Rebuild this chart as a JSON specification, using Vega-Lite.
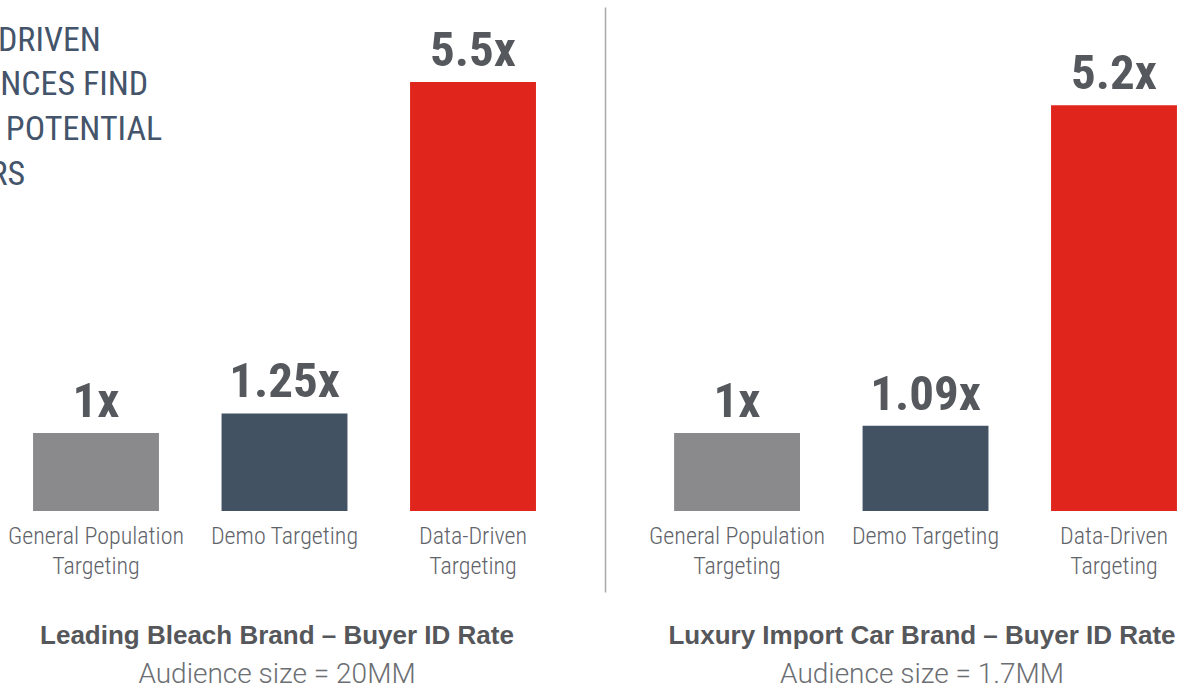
{
  "$schema": "https://vega.github.io/schema/vega-lite/v6.json",
  "background": "white",
  "padding": {"left": 0, "top": 7, "right": 0, "bottom": 0},
  "spacing": 51,
  "datasets": {
    "bleach": [
      {"category": "General Population Targeting", "value": 1, "label": "1x"},
      {"category": "Demo Targeting", "value": 1.25, "label": "1.25x"},
      {"category": "Data-Driven Targeting", "value": 5.5, "label": "5.5x"}
    ],
    "car": [
      {"category": "General Population Targeting", "value": 1, "label": "1x"},
      {"category": "Demo Targeting", "value": 1.09, "label": "1.09x"},
      {"category": "Data-Driven Targeting", "value": 5.2, "label": "5.2x"}
    ],
    "headline": [
      {"text": "DATA-DRIVEN|AUDIENCES FIND|MORE POTENTIAL|BUYERS"}
    ]
  },
  "config": {
    "view": {"stroke": null},
    "axis": {"grid": false},
    "title": {
      "orient": "bottom",
      "anchor": "middle",
      "font": "Liberation Sans",
      "fontSize": 26,
      "fontWeight": "bold",
      "color": "#55575b",
      "subtitleFont": "Roboto",
      "subtitleFontSize": 28,
      "subtitleFontWeight": 300,
      "subtitleColor": "#6b6e72",
      "offset": 31,
      "subtitlePadding": 12
    }
  },
  "hconcat": [
    {
      "width": 554,
      "height": 585,
      "title": {"text": "Leading Bleach Brand – Buyer ID Rate", "subtitle": "Audience size = 20MM"},
      "data": {"name": "bleach"},
      "encoding": {
        "x": {
          "field": "category", "type": "nominal", "sort": null,
          "scale": {"paddingInner": 0.332, "paddingOuter": 0.1355, "align": 0.647},
          "axis": {
            "orient": "bottom", "offset": -81, "domain": false, "ticks": false, "title": null,
            "labelAngle": 0, "labelFont": "Roboto Condensed", "labelFontWeight": 300, "labelFontSize": 24,
            "labelColor": "#5f636a", "labelPadding": 13, "labelLineHeight": 30,
            "labelLimit": 400, "labelOverlap": false,
            "labelExpr": "datum.label == 'Demo Targeting' ? datum.label : split(replace(datum.label, ' Targeting', '|Targeting'), '|')"
          }
        }
      },
      "layer": [
        {
          "mark": {"type": "bar"},
          "encoding": {
            "y": {"field": "value", "type": "quantitative", "scale": {"domain": [-1.04, 6.46], "nice": false, "zero": false}, "axis": null},
            "y2": {"datum": 0},
            "color": {"field": "category", "type": "nominal", "legend": null,
              "scale": {"domain": ["General Population Targeting", "Demo Targeting", "Data-Driven Targeting"], "range": ["#8a8a8c", "#435262", "#e0251c"]}}
          }
        },
        {
          "mark": {"type": "text", "font": "Roboto Condensed", "fontWeight": "bold", "fontSize": 49, "color": "#55585c", "baseline": "alphabetic", "dy": -16},
          "encoding": {
            "y": {"field": "value", "type": "quantitative"},
            "text": {"field": "label"}
          }
        },
        {
          "data": {"name": "headline"},
          "mark": {"type": "text", "clip": true, "font": "Roboto Condensed", "fontSize": 34, "color": "#44546a", "align": "left", "baseline": "alphabetic", "lineBreak": "|", "lineHeight": 44.7, "dx": -83},
          "encoding": {
            "x": {"value": 0},
            "y": {"datum": 5.9},
            "text": {"field": "text"}
          }
        }
      ]
    },
    {
      "width": 582,
      "height": 585,
      "title": {"text": "Luxury Import Car Brand – Buyer ID Rate", "subtitle": "Audience size = 1.7MM", "dx": 26},
      "data": {"name": "car"},
      "encoding": {
        "x": {
          "field": "category", "type": "nominal", "sort": null,
          "scale": {"paddingInner": 0.332, "paddingOuter": 0.21, "align": 0.873},
          "axis": {
            "orient": "bottom", "offset": -81, "domain": false, "ticks": false, "title": null,
            "labelAngle": 0, "labelFont": "Roboto Condensed", "labelFontWeight": 300, "labelFontSize": 24,
            "labelColor": "#5f636a", "labelPadding": 13, "labelLineHeight": 30,
            "labelLimit": 400, "labelOverlap": false,
            "labelExpr": "datum.label == 'Demo Targeting' ? datum.label : split(replace(datum.label, ' Targeting', '|Targeting'), '|')"
          }
        }
      },
      "layer": [
        {
          "mark": {"type": "bar"},
          "encoding": {
            "y": {"field": "value", "type": "quantitative", "scale": {"domain": [-1.04, 6.46], "nice": false, "zero": false},
              "axis": {"orient": "left", "domain": true, "domainColor": "#a9a9a9", "domainWidth": 1.5, "ticks": false, "labels": false, "title": null, "minExtent": 0, "maxExtent": 0}},
            "y2": {"datum": 0},
            "color": {"field": "category", "type": "nominal", "legend": null,
              "scale": {"domain": ["General Population Targeting", "Demo Targeting", "Data-Driven Targeting"], "range": ["#8a8a8c", "#435262", "#e0251c"]}}
          }
        },
        {
          "mark": {"type": "text", "font": "Roboto Condensed", "fontWeight": "bold", "fontSize": 49, "color": "#55585c", "baseline": "alphabetic", "dy": -16},
          "encoding": {
            "y": {"field": "value", "type": "quantitative"},
            "text": {"field": "label"}
          }
        }
      ]
    }
  ]
}
